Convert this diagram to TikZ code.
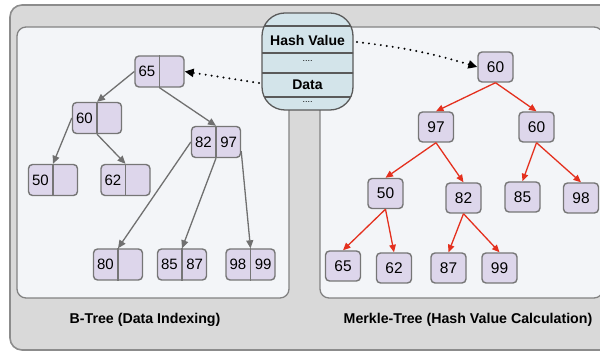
\documentclass[tikz,border=0pt]{standalone}
\usepackage{fontspec}
\setmainfont{Liberation Sans}
\usetikzlibrary{arrows.meta,calc}

\definecolor{frameFill}{RGB}{217,217,217}
\definecolor{frameLine}{RGB}{140,140,140}
\definecolor{panelFill}{RGB}{243,245,248}
\definecolor{panelLine}{RGB}{130,130,130}
\definecolor{keyFill}{RGB}{221,214,235}
\definecolor{keyLine}{RGB}{118,118,118}
\definecolor{hashFill}{RGB}{211,228,234}
\definecolor{hashLine}{RGB}{90,90,90}
\definecolor{treeGray}{RGB}{112,112,112}
\definecolor{hashRed}{RGB}{228,48,30}

\tikzset{
  x=1pt, y=-1pt,
  txt/.style={font=\fontsize{15}{17}\selectfont, inner sep=0pt},
  btxt/.style={txt},
  bbox/.style={draw=keyLine, fill=keyFill, line width=1.4pt, rounded corners=4pt,
    minimum width=49pt, minimum height=31pt, inner sep=0pt},
  bline/.style={draw=keyLine, line width=1.2pt},
  mbox/.style={draw=keyLine, fill=keyFill, line width=1.4pt, rounded corners=4pt,
    minimum width=35pt, minimum height=30pt, inner sep=0pt,
    font=\fontsize{15.5}{17}\selectfont},
  garrow/.style={draw=treeGray, line width=1.3pt,
    -{Triangle[length=8pt,width=7pt]}},
  rarrow/.style={draw=hashRed, line width=1.3pt,
    -{Triangle[length=7.5pt,width=6.5pt]}},
  dotarrow/.style={draw=black, line width=2.2pt, line cap=round,
    dash pattern=on 0pt off 6pt, -{Triangle[length=9pt,width=8pt,line cap=butt]}},
  caption/.style={font=\bfseries\fontsize{14.2}{16}\selectfont, inner sep=0pt},
}

% two-cell B-tree key node: name, x, y, left key, right key
\newcommand\btnode[5]{%
  \node[bbox] (#1) at (#2,#3) {};
  \draw[bline] (#1.north) -- (#1.south);
  \node[btxt] (#1-l) at ($(#1.center)!0.5!(#1.west)$) {#4};
  \node[btxt] (#1-r) at ($(#1.center)!0.5!(#1.east)$) {#5};
}

\begin{document}
\begin{tikzpicture}
\useasboundingbox (0,0) rectangle (600,352);
\clip (0,0) rectangle (600,352);

% outer frame
\draw[fill=frameFill, draw=frameLine, line width=1.6pt, rounded corners=12pt]
  (10,5) rectangle (616,350);

% the two panels
\draw[fill=panelFill, draw=panelLine, line width=1.3pt, rounded corners=9pt]
  (17,27) rectangle (289,298);
\draw[fill=panelFill, draw=panelLine, line width=1.3pt, rounded corners=9pt]
  (320,27) rectangle (603,298);

% record with hash value and data
\node[draw=hashLine, fill=hashFill, line width=1.3pt, rounded corners=23pt,
  minimum width=91pt, minimum height=97pt, inner sep=0pt] (hash) at (307.5,61.5) {};
\begin{scope}
  \clip[rounded corners=23pt] (262,13) rectangle (353,110);
  \draw[hashLine, line width=1.2pt] (255,26) -- (360,26);
  \draw[hashLine, line width=1.2pt] (255,53) -- (360,53);
  \draw[hashLine, line width=1.2pt] (255,73) -- (360,73);
  \draw[hashLine, line width=1.2pt] (255,97) -- (360,97);
\end{scope}
\node[txt, font=\bfseries\fontsize{14}{16}\selectfont] (hv) at (307.5,41) {Hash Value};
\node[txt, font=\fontsize{9}{10}\selectfont] (hd1) at (307.5,61) {....};
\node[txt, font=\bfseries\fontsize{14}{16}\selectfont] (dt) at (307.5,85) {Data};
\node[txt, font=\fontsize{9}{10}\selectfont] (hd2) at (307.5,102) {....};
\coordinate (hvR) at (357,42);
\coordinate (dtL) at (259,83);

% B-tree
\btnode{b65}{159.5}{71.5}{65}{}
\btnode{b60}{97}{118}{60}{}
\btnode{b8297}{216}{142}{82}{97}
\btnode{b50}{53}{180}{50}{}
\btnode{b62}{125.5}{180}{62}{}
\btnode{b80}{118}{264.5}{80}{}
\btnode{b8587}{182}{264.5}{85}{87}
\btnode{b9899}{250.5}{264.5}{98}{99}

\draw[garrow] (b65.west) -- (b60.north);
\draw[garrow] (b65.south) -- (b8297.north);
\draw[garrow] (b60.west) -- (b50.north);
\draw[garrow] (b60.south) -- (b62.north);
\draw[garrow] (b8297.west) -- (b80.north);
\draw[garrow] (b8297.south) -- (b8587.north);
\draw[garrow] (b8297.-20) -- (b9899.north);

% Merkle tree
\node[mbox] (m60)  at (495.5,67)  {60};
\node[mbox] (m97)  at (436,127)   {97};
\node[mbox] (m60b) at (536.5,127) {60};
\node[mbox] (m50)  at (385.5,193.5) {50};
\node[mbox] (m82)  at (463.5,198) {82};
\node[mbox] (m85)  at (522.5,197) {85};
\node[mbox] (m98)  at (581,198)   {98};
\node[mbox] (m65)  at (343,266)   {65};
\node[mbox] (m62)  at (394,268)   {62};
\node[mbox] (m87)  at (448.5,268) {87};
\node[mbox] (m99)  at (499.5,268) {99};

\draw[rarrow] (m60.south) -- (m97.north);
\draw[rarrow] (m60.south) -- (m60b.north);
\draw[rarrow] (m97.south) -- (m50.north);
\draw[rarrow] (m97.south) -- (m82.north);
\draw[rarrow] (m60b.south) -- (m85.north);
\draw[rarrow] (m60b.south) -- (m98.north);
\draw[rarrow] (m50.south) -- (m65.north);
\draw[rarrow] (m50.south) -- (m62.north);
\draw[rarrow] (m82.south) -- (m87.north);
\draw[rarrow] (m82.south) -- (m99.north);

% links from the record to both trees
\draw[dotarrow] (hvR) to[bend left=5] (m60.west);
\draw[dotarrow] (dtL) -- (b65.east);

% captions
\node[caption] (capB) at (145,320) {B-Tree (Data Indexing)};
\node[caption] (capM) at (468,320) {Merkle-Tree (Hash Value Calculation)};
\end{tikzpicture}
\end{document}
